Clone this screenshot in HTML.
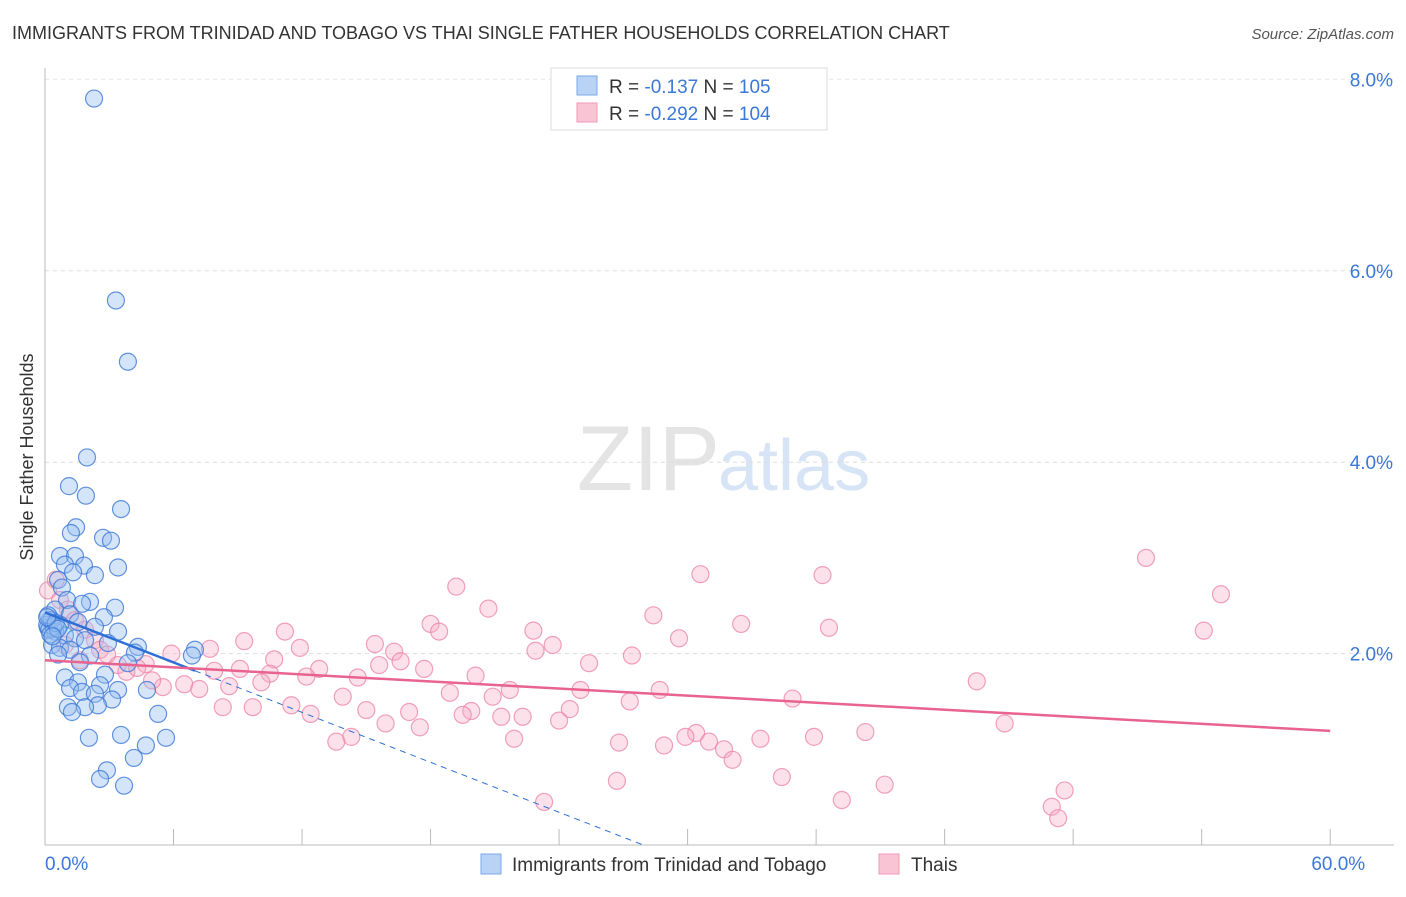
<!DOCTYPE html>
<html><head><meta charset="utf-8"><style>
body{margin:0;background:#fff;font-family:"Liberation Sans",sans-serif;}
svg text{font-family:"Liberation Sans",sans-serif;}
</style></head><body>
<svg id="chart" width="1406" height="892" viewBox="0 0 1406 892">
<text x="12" y="39" font-size="18" fill="#333">IMMIGRANTS FROM TRINIDAD AND TOBAGO VS THAI SINGLE FATHER HOUSEHOLDS CORRELATION CHART</text>
<text x="1394" y="39" font-size="15" fill="#555" text-anchor="end" font-style="italic">Source: ZipAtlas.com</text>
<text x="720" y="490" font-size="92" fill="#e4e4e4" text-anchor="end" font-family="Liberation Serif">ZIP</text>
<text x="718" y="490" font-size="72" fill="#d6e4f5">atlas</text>
<g id="grid"></g><g id="axes"></g><g id="pink"></g><g id="blue"></g><g id="lines"></g>
<text transform="translate(33,457) rotate(-90)" font-size="18" fill="#333" text-anchor="middle">Single Father Households</text>
<g>
<rect x="551" y="68" width="276" height="62" fill="#fff" stroke="#ddd"/>
<rect x="577" y="76" width="20" height="19" fill="#b8d3f5" stroke="#7aa9e6"/>
<rect x="577" y="103" width="20" height="19" fill="#f9c5d5" stroke="#ef9ab3"/>
<text x="609" y="93" font-size="19" fill="#333">R = <tspan fill="#3b78d8">-0.137</tspan>   N = <tspan fill="#3b78d8">105</tspan></text>
<text x="609" y="120" font-size="19" fill="#333">R = <tspan fill="#3b78d8">-0.292</tspan>   N = <tspan fill="#3b78d8">104</tspan></text>
</g>
<g>
<rect x="481" y="854" width="20" height="20" fill="#b8d3f5" stroke="#7aa9e6"/>
<text x="512" y="871" font-size="19" fill="#333">Immigrants from Trinidad and Tobago</text>
<rect x="879" y="854" width="20" height="20" fill="#f9c5d5" stroke="#ef9ab3"/>
<text x="911" y="871" font-size="19" fill="#333">Thais</text>
</g>
</svg>
<script>
const xTicks=[0,6,12,18,24,30,36,42,48,54,60];
const yTicks=[2,4,6,8];
const yTickLabels=["2.0%","4.0%","6.0%","8.0%"];
const xEndLabels=["0.0%","60.0%"];
const blueX=[2.29,3.31,3.87,1.96,1.12,1.91,3.55,1.45,1.21,2.71,3.08,0.70,1.40,0.93,1.82,3.41,1.31,2.33,0.61,0.79,1.03,2.10,3.27,1.73,0.47,1.17,2.75,0.23,0.70,1.54,2.33,3.41,0.14,0.47,0.93,1.40,1.87,2.94,4.34,0.33,0.70,1.17,7.0,0.61,2.10,4.20,6.86,1.63,3.87,2.80,0.93,1.54,2.57,3.41,4.76,1.17,1.73,2.33,3.13,2.47,1.87,1.07,1.26,5.28,3.55,2.05,5.65,4.71,4.15,2.89,2.57,3.69,0.1,0.2,0.3,0.4,0.15,0.25,0.5,0.6,0.35,0.1];
const blueY=[7.80,5.69,5.05,4.05,3.75,3.65,3.51,3.32,3.26,3.21,3.18,3.02,3.02,2.93,2.92,2.90,2.85,2.82,2.77,2.69,2.56,2.54,2.48,2.52,2.46,2.41,2.38,2.35,2.30,2.33,2.28,2.23,2.27,2.23,2.19,2.16,2.14,2.11,2.07,2.09,2.06,2.04,2.04,1.99,1.98,2.01,1.98,1.91,1.90,1.78,1.75,1.70,1.67,1.62,1.62,1.64,1.60,1.58,1.52,1.46,1.44,1.44,1.39,1.37,1.15,1.12,1.12,1.04,0.91,0.78,0.69,0.62,2.30,2.25,2.35,2.28,2.40,2.20,2.32,2.26,2.18,2.38];
const pinkX=[51.4,36.3,30.6,54.9,19.2,20.7,28.4,32.5,36.6,54.1,18.0,18.4,22.8,11.2,9.3,29.6,23.7,15.4,11.9,7.7,22.9,16.3,27.4,5.9,10.7,16.6,25.4,15.6,12.8,17.7,9.1,7.9,4.7,10.5,20.1,14.6,12.2,10.1,8.6,6.5,5.5,7.2,25.0,28.7,21.7,18.9,20.9,13.9,34.9,43.5,27.3,11.5,8.3,9.7,24.5,15.0,17.0,19.9,12.4,19.5,21.3,22.3,24.0,15.9,17.5,44.8,38.3,30.4,29.9,14.3,31.0,33.4,35.9,21.9,13.6,26.8,28.9,31.7,32.1,34.4,26.7,39.2,47.6,37.2,23.3,47.0,47.3,0.14,0.5,0.7,1.07,1.4,1.87,2.33,2.57,2.9,3.4,3.8,4.3,5.0,0.93,1.63];
const pinkY=[3.0,2.82,2.83,2.62,2.70,2.47,2.40,2.31,2.27,2.24,2.31,2.23,2.24,2.23,2.13,2.16,2.09,2.10,2.06,2.05,2.03,2.02,1.98,2.0,1.94,1.92,1.90,1.88,1.84,1.84,1.84,1.82,1.89,1.79,1.77,1.75,1.76,1.70,1.66,1.68,1.65,1.63,1.62,1.62,1.62,1.59,1.55,1.55,1.53,1.71,1.50,1.46,1.44,1.44,1.42,1.41,1.39,1.40,1.37,1.36,1.34,1.34,1.30,1.27,1.23,1.27,1.18,1.17,1.13,1.13,1.08,1.11,1.13,1.11,1.08,1.07,1.04,1.0,0.89,0.71,0.67,0.63,0.57,0.47,0.45,0.40,0.28,2.66,2.77,2.56,2.46,2.35,2.25,2.14,2.04,1.99,1.88,1.81,1.85,1.72,2.09,1.93];
const blueTrend=[2.43,-0.087];
const pinkTrend=[1.93,-0.0123];
const X=v=>45+v*21.42, Y=v=>845-v*95.7;
const NS="http://www.w3.org/2000/svg";
function mk(tag,parent,attrs){const e=document.createElementNS(NS,tag);for(const k in attrs)e.setAttribute(k,attrs[k]);document.getElementById(parent).appendChild(e);return e;}
yTicks.forEach((t,i)=>{
  const g=mk('line','grid',{x1:45,x2:1394,y1:Y(t),y2:Y(t),stroke:'#ddd','stroke-dasharray':'4,4'});
  
  
  const l=mk('text','axes',{x:1393,y:Y(t)+7,'font-size':19,fill:'#3b78d8','text-anchor':'end'});l.textContent=yTickLabels[i];
  
  
});
const g8=mk('line','grid',{x1:45,x2:1394,y1:Y(8.2)+19,y2:Y(8.2)+19,stroke:'#eee','stroke-dasharray':'4,4'});


const ax=mk('line','axes',{x1:45,x2:1394,y1:845,y2:845,stroke:'#bbb'});


const ay=mk('line','axes',{x1:45,x2:45,y1:68,y2:845,stroke:'#bbb'});


xTicks.forEach(t=>{const e=mk('line','axes',{x1:X(t),x2:X(t),y1:845,y2:829,stroke:'#bbb'});
  
  });
[[0,'start'],[60,'end']].forEach((p,i)=>{const t=mk('text','axes',{x:X(p[0])+(i?35:0),y:870,'font-size':19,fill:'#3b78d8','text-anchor':p[1]});t.textContent=xEndLabels[i];
  
  });
pinkX.forEach((x,i)=>{const c=mk('circle','pink',{cx:X(x),cy:Y(pinkY[i]),r:8.5,fill:'rgba(246,170,195,0.35)',stroke:'rgba(236,130,165,0.75)','stroke-width':1.2});
  
  });
blueX.forEach((x,i)=>{const c=mk('circle','blue',{cx:X(x),cy:Y(blueY[i]),r:8.5,fill:'rgba(150,190,240,0.4)',stroke:'rgba(60,120,215,0.8)','stroke-width':1.2});
  
  });
const bz=-blueTrend[0]/blueTrend[1];
const b1=mk('line','lines',{x1:X(0),y1:Y(blueTrend[0]),x2:X(7),y2:Y(blueTrend[0]+7*blueTrend[1]),stroke:'#2d6fd6','stroke-width':2.5});


const b2=mk('line','lines',{x1:X(7),y1:Y(blueTrend[0]+7*blueTrend[1]),x2:X(bz),y2:Y(0),stroke:'#2d6fd6','stroke-width':1,'stroke-dasharray':'6,5'});


const p1=mk('line','lines',{x1:X(0),y1:Y(pinkTrend[0]),x2:X(60),y2:Y(pinkTrend[0]+60*pinkTrend[1]),stroke:'#e8638f','stroke-width':2.5});


</script>
</body></html>
